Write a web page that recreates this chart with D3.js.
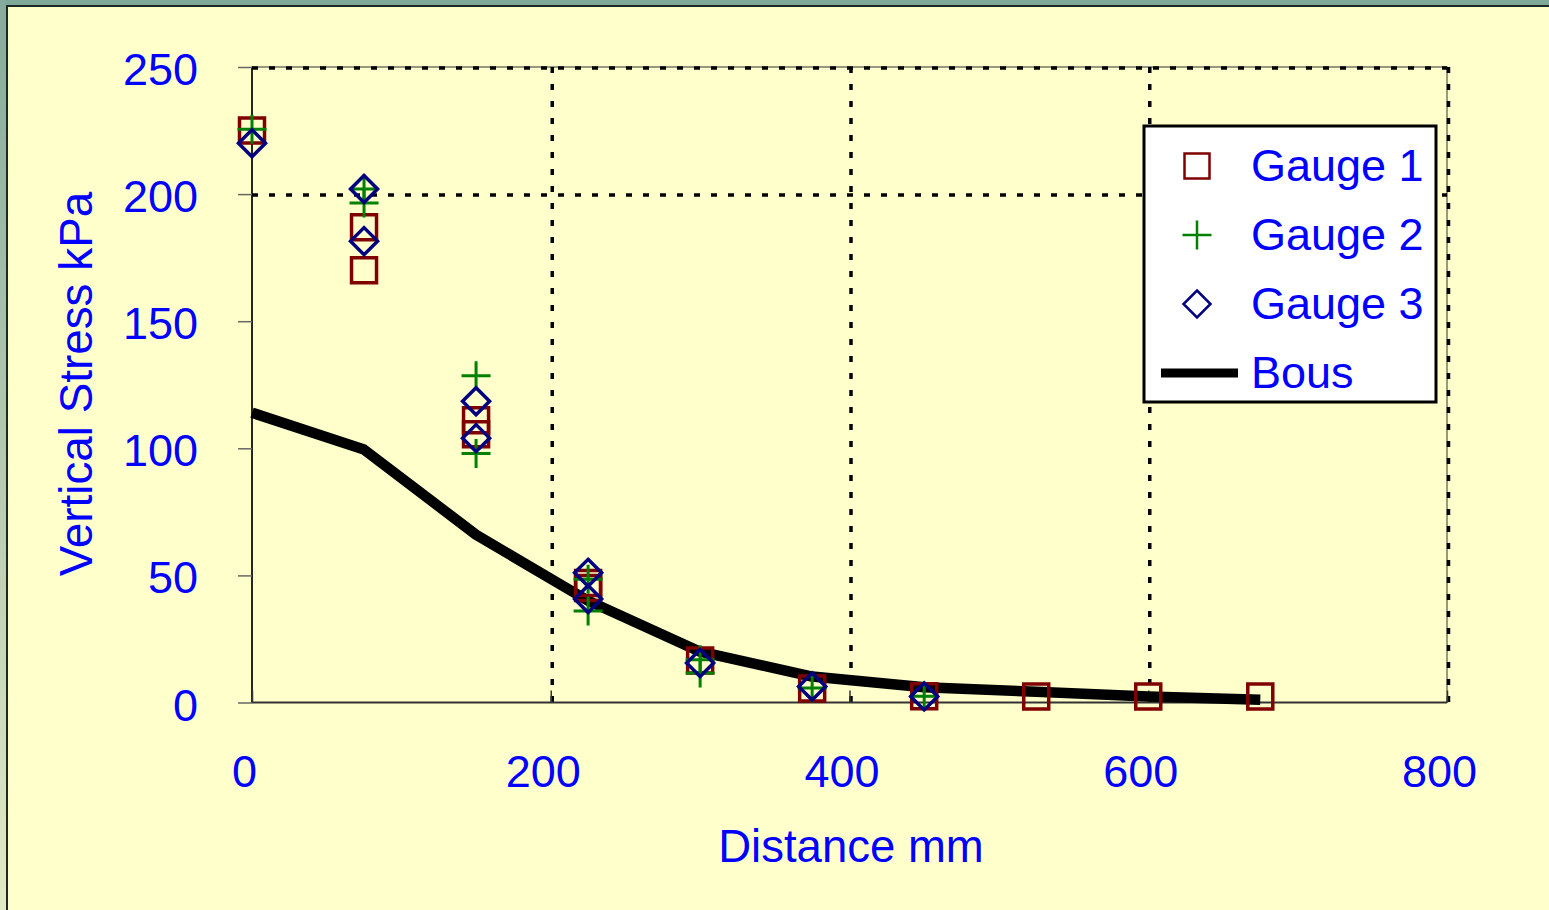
<!DOCTYPE html>
<meta charset="utf-8">
<style>
  body { margin: 0; background: #ffffcc; }
  svg { display: block; font-family: "Liberation Sans", Arial, sans-serif; }
  .lbl { fill: #0000ff; font-size: 45px; }
  .axis .domain { display: none; }
</style>
<svg width="1549" height="910"></svg>
<script src="https://d3js.org/d3.v7.min.js"></script>
<script>
  // distances along the surface (mm)
  var distances = [0, 75, 150, 225, 300, 375, 450, 525, 600, 675];
  // Boussinesq curve (kPa)
  var bous = [114, 99.5, 66, 40, 20, 10.2, 6, 4.2, 2.4, 1.1];
  // gauge readings, one list per distance (repeat tests)
  var gauge1 = [[225], [187, 170], [111, 105.5], [47, 45], [16.5], [5.5], [2.5], [2.4], [2.4], [2.4]];
  var gauge2 = [[225.5], [202, 196.5], [128.5, 98], [48.5, 36], [16.8, 11.6], [5.7], [2.5], [], [], []];
  var gauge3 = [[220], [202, 181.5], [118.5, 104], [51, 40.7], [15.5], [6.3], [2.4], [], [], []];
  var xTicks = [0, 200, 400, 600, 800];
  var yTicks = [0, 50, 100, 150, 200, 250];
  var xGrid = [200, 400, 600, 800];
  var yGrid = [200, 250];
  var legendNames = ["Gauge 1", "Gauge 2", "Gauge 3", "Bous"];

  var svg = d3.select("svg"),
    width = +svg.attr("width"),
    height = +svg.attr("height");

  var x = d3.scaleLinear().domain([0, 800]).range([252, 1447]);
  var y = d3.scaleLinear().domain([0, 250]).range([702.5, 67]);

  // window frame
  var defs = svg.append("defs");
  var grad = defs.append("linearGradient").attr("id", "side").attr("x1", 0).attr("y1", 0).attr("x2", 0).attr("y2", 1);
  grad.append("stop").attr("offset", 0).attr("stop-color", "#86aa9c");
  grad.append("stop").attr("offset", 1).attr("stop-color", "#e2e9c6");
  svg.append("rect").attr("width", width).attr("height", height).attr("fill", "#ffffcc");
  svg.append("rect").attr("width", width).attr("height", 5).attr("fill", "#80a898");
  svg.append("rect").attr("width", 6).attr("height", height).attr("fill", "url(#side)");
  svg.append("line").attr("x1", 6).attr("x2", width).attr("y1", 6).attr("y2", 6)
    .attr("stroke", "#1d2a24").attr("stroke-width", 2);
  svg.append("line").attr("x1", 7).attr("x2", 7).attr("y1", 6).attr("y2", height)
    .attr("stroke", "#1d2a24").attr("stroke-width", 2);

  var g = svg.append("g");

  // plot frame (thin)
  g.append("rect")
    .attr("x", x(0)).attr("y", y(250))
    .attr("width", x(800) - x(0)).attr("height", y(0) - y(250))
    .attr("fill", "none").attr("stroke", "#333").attr("stroke-width", 1);

  // dotted gridlines
  g.append("g").selectAll("line")
    .data(xGrid)
    .enter().append("line")
    .attr("x1", function(d) { return x(d) + 1.5; })
    .attr("x2", function(d) { return x(d) + 1.5; })
    .attr("y1", y(250))
    .attr("y2", y(0))
    .attr("stroke", "#000").attr("stroke-width", 3.5).attr("stroke-dasharray", "6,11");
  g.append("g").selectAll("line")
    .data(yGrid)
    .enter().append("line")
    .attr("x1", x(0))
    .attr("x2", x(800))
    .attr("y1", function(d) { return y(d) + 1; })
    .attr("y2", function(d) { return y(d) + 1; })
    .attr("stroke", "#000").attr("stroke-width", 3.5).attr("stroke-dasharray", "6,11");

  // axis lines
  g.append("line").attr("x1", x(0)).attr("x2", x(0)).attr("y1", y(250)).attr("y2", y(0))
    .attr("stroke", "#000").attr("stroke-width", 1.5);
  g.append("line").attr("x1", x(0)).attr("x2", x(800)).attr("y1", y(0)).attr("y2", y(0))
    .attr("stroke", "#333").attr("stroke-width", 2);

  // axes
  var yAxis = g.append("g")
    .attr("class", "axis")
    .attr("transform", "translate(" + x(0) + ",0)")
    .call(d3.axisLeft(y).tickValues(yTicks).tickSizeInner(14).tickSizeOuter(0).tickPadding(40));
  yAxis.selectAll(".tick line").attr("stroke", "#666").attr("stroke-width", 1.5);
  yAxis.selectAll(".tick text").attr("class", "lbl").attr("font-family", null).attr("font-size", null)
    .attr("dy", "0.39em");

  var xAxis = g.append("g")
    .attr("class", "axis")
    .attr("transform", "translate(0," + y(0) + ")")
    .call(d3.axisBottom(x).tickValues(xTicks).tickSizeInner(-12).tickSizeOuter(0).tickPadding(53));
  xAxis.selectAll(".tick line").attr("stroke", "#333").attr("stroke-width", 1.5);
  xAxis.selectAll(".tick text").attr("class", "lbl").attr("font-family", null).attr("font-size", null)
    .attr("dy", "0.69em")
    .attr("dx", -8);

  // axis titles
  g.append("text").attr("class", "lbl")
    .attr("x", 851).attr("y", 862)
    .style("font-size", "45.5px")
    .attr("text-anchor", "middle")
    .text("Distance mm");
  g.append("text").attr("class", "lbl")
    .attr("transform", "translate(92,384) rotate(-90)")
    .style("font-size", "45.8px")
    .attr("text-anchor", "middle")
    .text("Vertical Stress kPa");

  // Boussinesq line
  var line = d3.line()
    .x(function(d, i) { return x(distances[i]); })
    .y(function(d) { return y(d); });
  g.append("path")
    .datum(bous)
    .attr("d", line)
    .attr("fill", "none")
    .attr("stroke", "#000")
    .attr("stroke-width", 10.5)
    .attr("stroke-linejoin", "round");

  // marker shapes
  function squarePath(cx, cy, s) {
    var h = s / 2;
    return "M" + (cx - h) + "," + (cy - h) + "h" + s + "v" + s + "h" + (-s) + "Z";
  }
  function plusPath(cx, cy, s) {
    var h = s / 2;
    return "M" + (cx - h) + "," + cy + "h" + s + "M" + cx + "," + (cy - h) + "v" + s;
  }
  function diamondPath(cx, cy, r) {
    return "M" + cx + "," + (cy - r) + "L" + (cx + r) + "," + cy + "L" + cx + "," + (cy + r) + "L" + (cx - r) + "," + cy + "Z";
  }
  function flatten(vals) {
    var pts = [];
    vals.forEach(function(list, i) {
      list.forEach(function(v) { pts.push({ d: distances[i], v: v }); });
    });
    return pts;
  }

  var series = [
    { data: gauge1, color: "#800000", width: 3.5, shape: function(cx, cy) { return squarePath(cx, cy, 25); } },
    { data: gauge2, color: "#008000", width: 3, shape: function(cx, cy) { return plusPath(cx, cy, 29); } },
    { data: gauge3, color: "#000080", width: 3.5, shape: function(cx, cy) { return diamondPath(cx, cy, 13.5); } }
  ];

  series.forEach(function(s) {
    g.append("g").selectAll("path")
      .data(flatten(s.data))
      .enter().append("path")
      .attr("d", function(d) { return s.shape(x(d.d), y(d.v)); })
      .attr("fill", "none")
      .attr("stroke", s.color)
      .attr("stroke-width", s.width);
  });

  // legend
  var legend = g.append("g").attr("transform", "translate(1144,126)");
  legend.append("rect")
    .attr("width", 292).attr("height", 276)
    .attr("fill", "#fff").attr("stroke", "#000").attr("stroke-width", 3);
  var items = legend.selectAll(".item")
    .data(legendNames)
    .enter().append("g")
    .attr("class", "item")
    .attr("transform", function(d, i) { return "translate(0," + (40 + i * 69) + ")"; });
  items.each(function(d, i) {
    var it = d3.select(this);
    if (i < 3) {
      it.append("path")
        .attr("d", series[i].shape(53, 0))
        .attr("fill", "none")
        .attr("stroke", series[i].color)
        .attr("stroke-width", 2.5);
    } else {
      it.append("line").attr("x1", 17).attr("x2", 94).attr("y1", 0).attr("y2", 0)
        .attr("stroke", "#000").attr("stroke-width", 9);
    }
  });
  items.append("text")
    .attr("class", "lbl")
    .attr("x", 107)
    .attr("y", 15)
    .text(function(d) { return d; });
</script>
